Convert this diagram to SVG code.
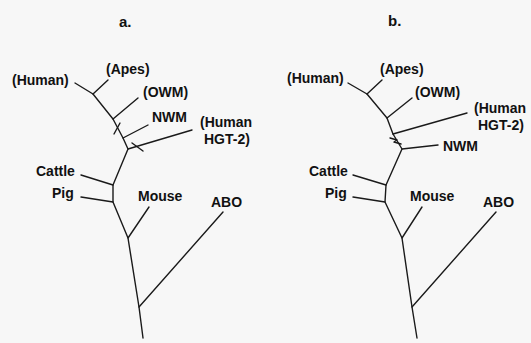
<svg xmlns="http://www.w3.org/2000/svg" width="531" height="343" viewBox="0 0 531 343">
<style>
.t{font-family:"Liberation Sans",Arial,sans-serif;font-weight:bold;font-size:14px;fill:#111}
.h{font-family:"Liberation Sans",Arial,sans-serif;font-weight:bold;font-size:15px;fill:#111}
.e{stroke:#1a1a1a;stroke-width:1.4;fill:none;stroke-linecap:round;stroke-linejoin:round}
</style>
<rect x="0" y="0" width="531" height="343" fill="#f7f7f7"/>
<g id="titles">
<text class="h" x="119" y="27">a.</text>
<text class="h" x="388" y="26">b.</text>
</g>
<g id="connectors">
<g id="tree-a" class="e">
<polyline points="75,83 93,94 113,119 123,138 128,149 113,185 113,202 128,238 139,307 143,338"/>
<line x1="93" y1="94" x2="108" y2="80"/>
<line x1="113" y1="119" x2="138" y2="98"/>
<line x1="123" y1="138" x2="148" y2="125"/>
<line x1="128" y1="149" x2="192" y2="130"/>
<line x1="81" y1="175" x2="113" y2="185"/>
<line x1="81" y1="197" x2="113" y2="202"/>
<line x1="128" y1="238" x2="149" y2="207"/>
<line x1="139" y1="307" x2="223" y2="212"/>
<line x1="114" y1="134" x2="120" y2="123"/>
<line x1="132" y1="143" x2="143" y2="151"/>
</g>
<g id="tree-b" class="e">
<polyline points="348,83 367,94 387,118 393,134 402,149 386,185 385,202 402,238 412,307 417,338"/>
<line x1="367" y1="94" x2="382" y2="80"/>
<line x1="387" y1="118" x2="412" y2="98"/>
<line x1="393" y1="134" x2="467" y2="113"/>
<line x1="402" y1="149" x2="438" y2="145"/>
<line x1="353" y1="175" x2="386" y2="185"/>
<line x1="353" y1="197" x2="385" y2="202"/>
<line x1="402" y1="238" x2="422" y2="207"/>
<line x1="412" y1="307" x2="496" y2="212"/>
<polyline points="390,138 397,140 394,142 401,144"/>
</g>
</g>
<g id="node-a-human"><text class="t" x="12" y="85">(Human)</text></g>
<g id="node-a-apes"><text class="t" x="106" y="74">(Apes)</text></g>
<g id="node-a-owm"><text class="t" x="143" y="97">(OWM)</text></g>
<g id="node-a-nwm"><text class="t" x="152" y="122">NWM</text></g>
<g id="node-a-hgt2"><text class="t" x="200" y="127">(Human</text><text class="t" x="204" y="144">HGT-2)</text></g>
<g id="node-a-cattle"><text class="t" x="36" y="176">Cattle</text></g>
<g id="node-a-pig"><text class="t" x="52" y="198">Pig</text></g>
<g id="node-a-mouse"><text class="t" x="138" y="201">Mouse</text></g>
<g id="node-a-abo"><text class="t" x="211" y="207">ABO</text></g>
<g id="node-b-human"><text class="t" x="287" y="83">(Human)</text></g>
<g id="node-b-apes"><text class="t" x="380" y="74">(Apes)</text></g>
<g id="node-b-owm"><text class="t" x="415" y="97">(OWM)</text></g>
<g id="node-b-hgt2"><text class="t" x="474" y="113">(Human</text><text class="t" x="478" y="130">HGT-2)</text></g>
<g id="node-b-nwm"><text class="t" x="443" y="151">NWM</text></g>
<g id="node-b-cattle"><text class="t" x="309" y="176">Cattle</text></g>
<g id="node-b-pig"><text class="t" x="325" y="198">Pig</text></g>
<g id="node-b-mouse"><text class="t" x="410" y="201">Mouse</text></g>
<g id="node-b-abo"><text class="t" x="483" y="207">ABO</text></g>
</svg>
